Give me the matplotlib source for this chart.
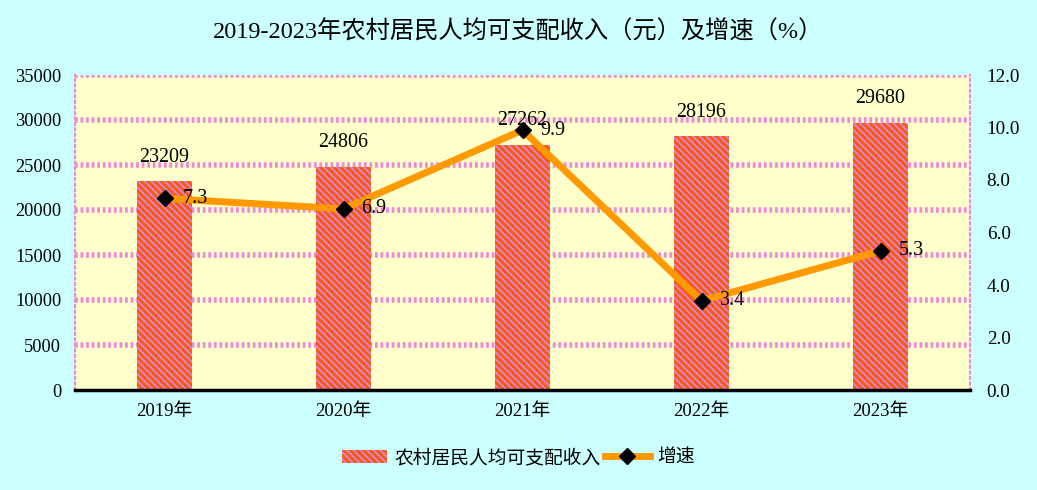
import matplotlib
matplotlib.use("Agg")
import matplotlib.pyplot as plt
from matplotlib.lines import Line2D
from matplotlib.patches import Patch

plt.rcParams['font.family'] = ['Liberation Serif', 'Noto Sans CJK SC', 'DejaVu Sans']
plt.rcParams['hatch.linewidth'] = 2.2
plt.rcParams['hatch.color'] = '#FF5A00'

years = ['2019年', '2020年', '2021年', '2022年', '2023年']
income = [23209, 24806, 27262, 28196, 29680]
growth = [7.3, 6.9, 9.9, 3.4, 5.3]
left_ticks = [0, 5000, 10000, 15000, 20000, 25000, 30000, 35000]
right_ticks = [0, 2, 4, 6, 8, 10, 12]

bg = '#CCFFFF'
hatch = '\\' * 5
fig = plt.figure(figsize=(10.37, 4.90), dpi=100, facecolor=bg)
ax = fig.add_axes([75/1037, 1-390/490, (970-75)/1037, (390-75)/490])
ax.set_facecolor('#FFFFCC')

x = list(range(len(years)))
ax.bar(x, income, width=0.31, color='#CC88FF', edgecolor='#FF5A00', hatch=hatch, linewidth=0, zorder=2)
for xi, v in zip(x, income):
    ax.annotate(str(v), (xi, v), xytext=(0, 24), textcoords='offset pixels',
                ha='center', va='center', fontsize=14.4, zorder=5)

ax.set_ylim(0, 35000)
ax.set_xlim(-0.5, 4.5)
ax.set_yticks(left_ticks)
ax.set_yticklabels([str(t) for t in left_ticks])
ax.set_xticks(x)
ax.set_xticklabels(years)
for yv in left_ticks[1:]:
    ax.axhline(yv, color='#F088D8', linewidth=4, linestyle=(0, (0.5, 0.5)), zorder=1)
ax.spines['top'].set_visible(False)
for s in ['left', 'right']:
    ax.spines[s].set_color('#F088D8')
    ax.spines[s].set_linestyle(':')
    ax.spines[s].set_linewidth(1.5)
ax.spines['bottom'].set_color('black')
ax.spines['bottom'].set_linewidth(2.5)
ax.spines['bottom'].set_zorder(6)
ax.tick_params(axis='y', length=0, labelsize=13.2, pad=10)
ax.tick_params(axis='x', length=0, labelsize=13.5, pad=9)

ax2 = ax.twinx()
ax2.set_ylim(0, 12)
ax2.set_yticks(right_ticks)
ax2.set_yticklabels([f'{t:.1f}' for t in right_ticks])
ax2.tick_params(axis='y', length=0, labelsize=13.8, pad=12)
for s in ax2.spines.values():
    s.set_visible(False)
ax2.plot(x, growth, color='#FF9900', linewidth=5, marker='D', markersize=8,
         markerfacecolor='black', markeredgecolor='black', zorder=4)
for xi, g in zip(x, growth):
    ax2.annotate(f'{g:.1f}', (xi, g), xytext=(18, 0), textcoords='offset pixels',
                 ha='left', va='center', fontsize=14.4, zorder=5)

fig.suptitle('2019-2023年农村居民人均可支配收入（元）及增速（%）', y=1-32/490, va='center', fontsize=17.5)

handles = [Patch(facecolor='#CC88FF', edgecolor='#FF5A00', hatch=hatch, linewidth=0, label='农村居民人均可支配收入'),
           Line2D([0], [0], color='#FF9900', linewidth=5, marker='D', markersize=8,
                  markerfacecolor='black', markeredgecolor='black', label='增速')]
fig.legend(handles=handles, loc='center', bbox_to_anchor=(0.5, 1-458/490), ncol=2,
           frameon=False, fontsize=13.5, handlelength=2.4, columnspacing=0.2, handletextpad=0.4)

fig.savefig('out.png', dpi=100, facecolor=bg)
